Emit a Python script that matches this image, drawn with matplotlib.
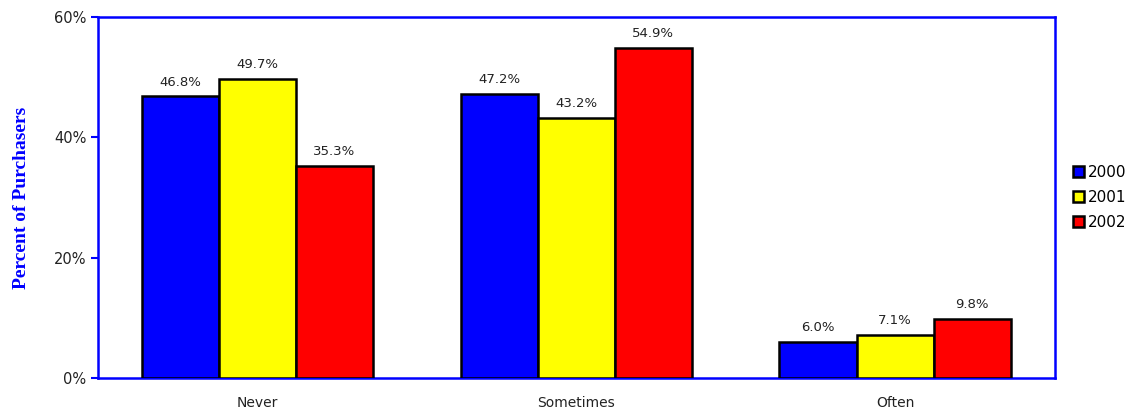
import matplotlib
matplotlib.use("Agg")
import matplotlib.pyplot as plt
import numpy as np

plt.rcParams["font.family"] = ["DejaVu Sans"]

categories = ["Never", "Sometimes", "Often"]
years = ["2000", "2001", "2002"]
v2000 = [46.8, 47.2, 6.0]
v2001 = [49.7, 43.2, 7.1]
v2002 = [35.3, 54.9, 9.8]
colors = ["#0000FF", "#FFFF00", "#FF0000"]

fig = plt.figure(figsize=(11.4, 4.13), dpi=100)
ax = fig.add_axes([0.086, 0.085, 0.839, 0.874])

x = np.arange(len(categories))
w = 0.242
for i, (vals, yr, c) in enumerate(zip([v2000, v2001, v2002], years, colors)):
    pos = x + (i - 1) * w
    ax.bar(pos, vals, w, color=c, edgecolor="black", linewidth=1.8, label=yr, zorder=3)
    for px, v in zip(pos, vals):
        ax.text(px, v + 1.3, f"{v:.1f}%", ha="center", va="bottom", fontsize=9.5, color="#222222")

ax.set_xlim(-0.5, 2.5)
ax.set_ylim(0, 60)
ax.set_yticks([0, 20, 40, 60])
ax.set_yticklabels(["0%", "20%", "40%", "60%"], fontsize=10.5, color="#222222")
ax.set_xticks(x)
ax.set_xticklabels(categories, fontsize=10, color="#222222")
ax.tick_params(axis="x", length=0, pad=13)
ax.tick_params(axis="y", length=5, color="blue", width=1.5, direction="out")
for s in ax.spines.values():
    s.set_color("blue")
    s.set_linewidth(1.8)
ax.set_ylabel("Percent of Purchasers", fontsize=14, fontweight="bold", color="blue",
              family="Liberation Serif", labelpad=17)

leg = ax.legend(loc="center left", bbox_to_anchor=(1.005, 0.5), frameon=False,
                fontsize=11, handlelength=0.75, handleheight=0.75, handletextpad=0.2,
                labelspacing=0.65)
fig.savefig("out.png", dpi=100)
